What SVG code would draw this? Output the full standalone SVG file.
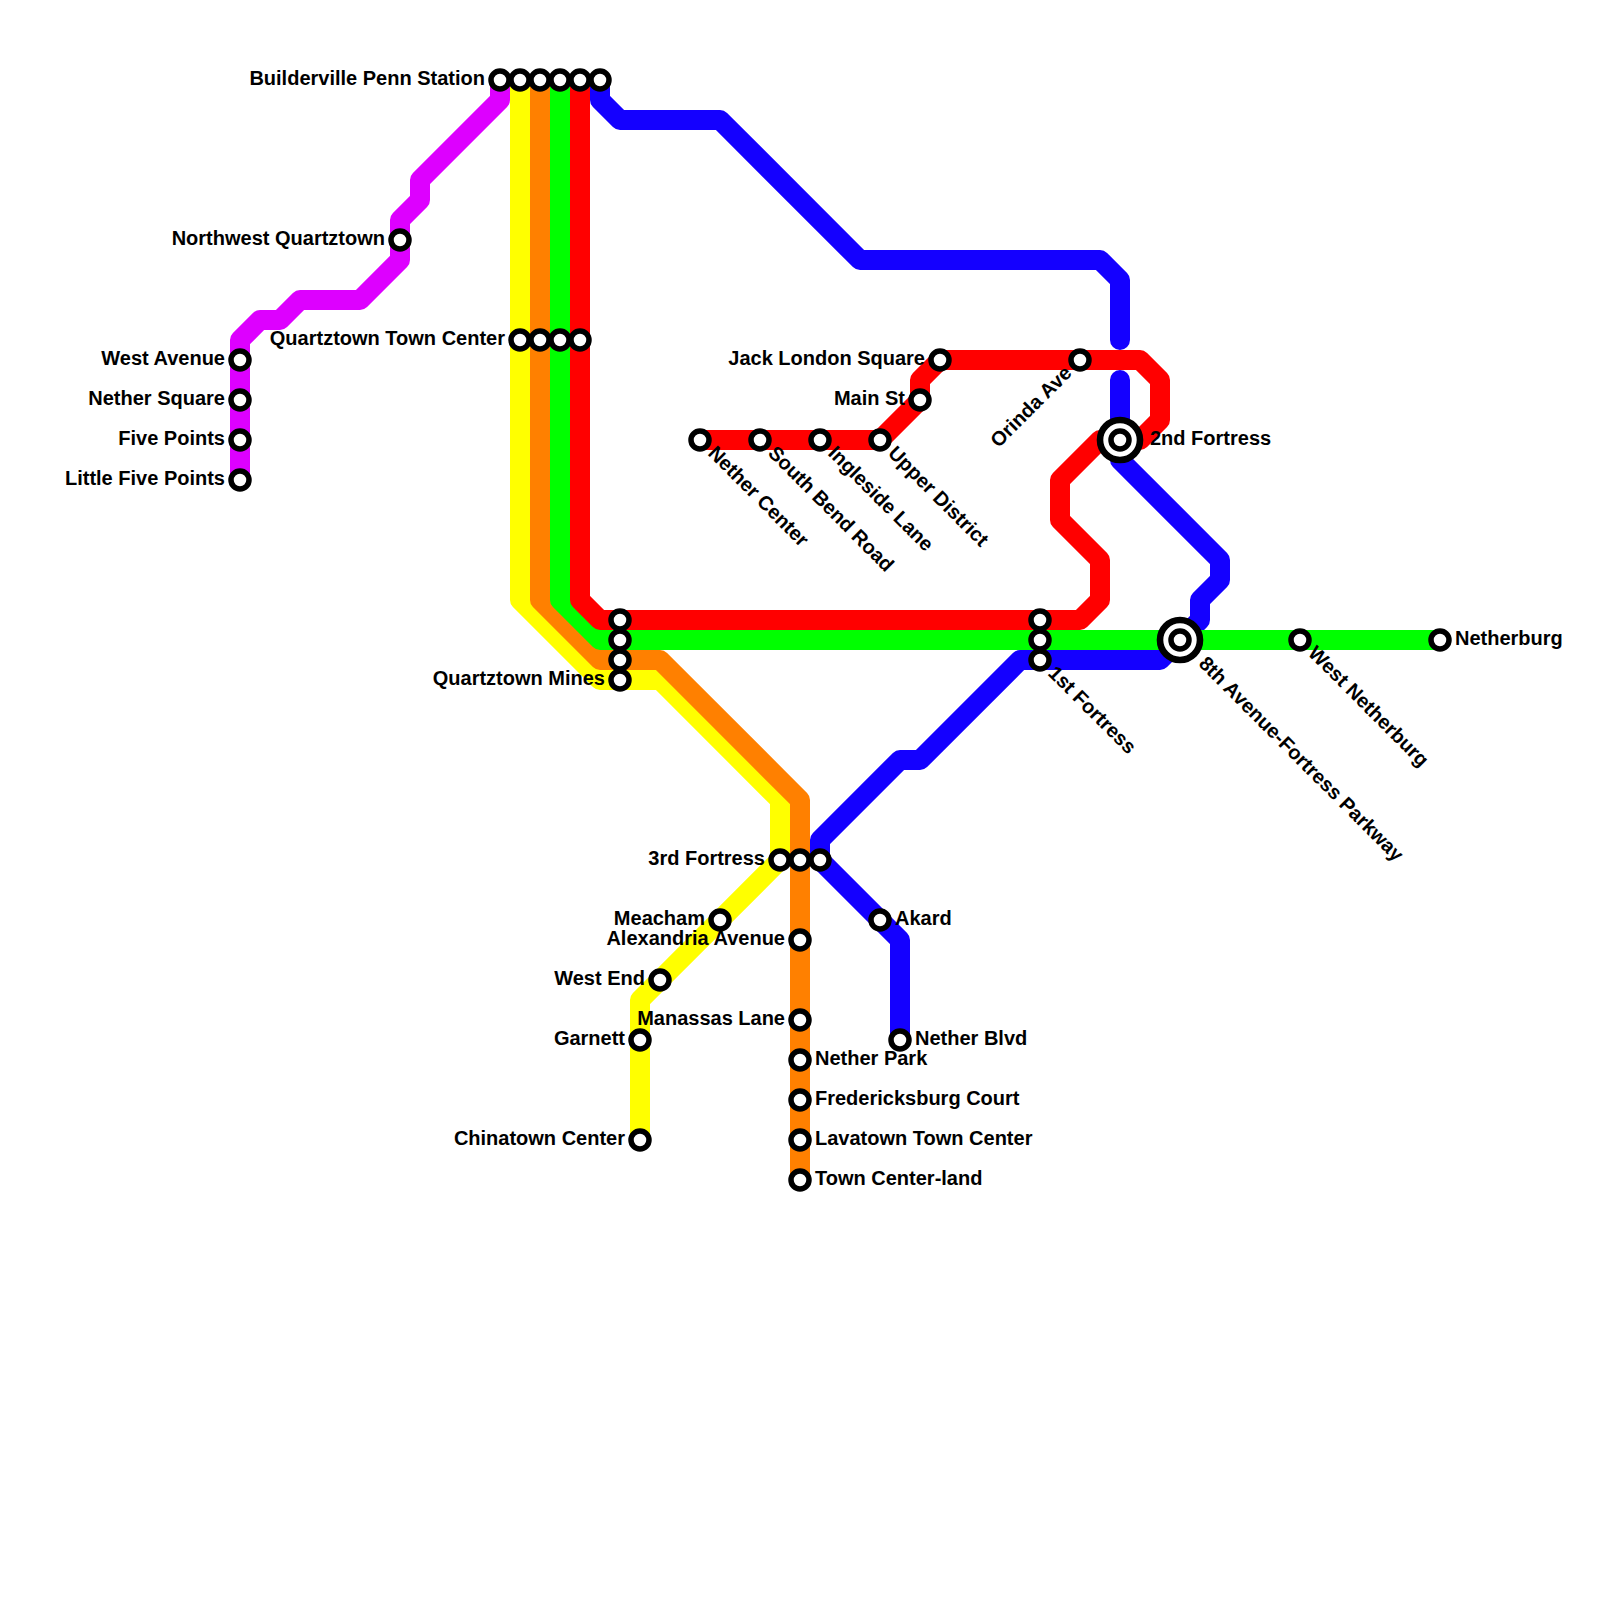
<svg xmlns="http://www.w3.org/2000/svg" width="1600" height="1600" viewBox="0 0 1600 1600">
<style>
.l{fill:none;stroke-width:20;stroke-linecap:round;stroke-linejoin:round}
.s{fill:#fff;stroke:#000;stroke-width:5.5}
.b{fill:#fff;stroke:#000;stroke-width:6.6}
text{font-family:"Liberation Sans",Arial,sans-serif;font-weight:700;font-size:20px;fill:#000}
.e{text-anchor:end}
</style>
<rect width="1600" height="1600" fill="#fff"/>
<g id="connectors">
<path class="l" stroke="#1400ff" d="M600 80V100L620 120H720L860 260H1100L1120 280V340"/>
<path class="l" stroke="#1400ff" d="M1120 380V460L1220 560V580L1200 600V620L1160 660H1020L920 760H900L820 840V860L900 940V1040"/>
<path class="l" stroke="#dd00ff" d="M500 80V100L420 180V200L400 220V260L360 300H300L280 320H260L240 340V480"/>
<path class="l" stroke="#ffff00" d="M520 80V600L600 680H660L780 800V860L640 1000V1140"/>
<path class="l" stroke="#ff8000" d="M540 80V600L600 660H660L800 800V1180"/>
<path class="l" stroke="#00ff00" d="M560 80V600L600 640H1440"/>
<path class="l" stroke="#ff0000" d="M580 80V600L600 620H1080L1100 600V560L1060 520V480L1100 440H1140L1160 420V380L1140 360H940L920 380V400L880 440H700"/>
</g>
<g id="builderville-penn-station"><circle class="s" cx="500" cy="80" r="9"/><circle class="s" cx="520" cy="80" r="9"/><circle class="s" cx="540" cy="80" r="9"/><circle class="s" cx="560" cy="80" r="9"/><circle class="s" cx="580" cy="80" r="9"/><circle class="s" cx="600" cy="80" r="9"/><text class="e" x="485" y="84.5">Builderville Penn Station</text></g>
<g id="northwest-quartztown"><circle class="s" cx="400" cy="240" r="9"/><text class="e" x="385" y="244.5">Northwest Quartztown</text></g>
<g id="quartztown-town-center"><circle class="s" cx="520" cy="340" r="9"/><circle class="s" cx="540" cy="340" r="9"/><circle class="s" cx="560" cy="340" r="9"/><circle class="s" cx="580" cy="340" r="9"/><text class="e" x="505" y="344.5">Quartztown Town Center</text></g>
<g id="west-avenue"><circle class="s" cx="240" cy="360" r="9"/><text class="e" x="225" y="364.5">West Avenue</text></g>
<g id="nether-square"><circle class="s" cx="240" cy="400" r="9"/><text class="e" x="225" y="404.5">Nether Square</text></g>
<g id="five-points"><circle class="s" cx="240" cy="440" r="9"/><text class="e" x="225" y="444.5">Five Points</text></g>
<g id="little-five-points"><circle class="s" cx="240" cy="480" r="9"/><text class="e" x="225" y="484.5">Little Five Points</text></g>
<g id="jack-london-square"><circle class="s" cx="940" cy="360" r="9"/><text class="e" x="925" y="364.5">Jack London Square</text></g>
<g id="main-st"><circle class="s" cx="920" cy="400" r="9"/><text class="e" x="905" y="404.5">Main St</text></g>
<g id="orinda-ave"><circle class="s" cx="1080" cy="360" r="9"/><text class="e" transform="translate(1080 360) rotate(-45)" x="-15" y="5">Orinda Ave</text></g>
<g id="nether-center"><circle class="s" cx="700" cy="440" r="9"/><text transform="translate(700 440) rotate(45)" x="15" y="5">Nether Center</text></g>
<g id="south-bend-road"><circle class="s" cx="760" cy="440" r="9"/><text transform="translate(760 440) rotate(45)" x="15" y="5">South Bend Road</text></g>
<g id="ingleside-lane"><circle class="s" cx="820" cy="440" r="9"/><text transform="translate(820 440) rotate(45)" x="15" y="5">Ingleside Lane</text></g>
<g id="upper-district"><circle class="s" cx="880" cy="440" r="9"/><text transform="translate(880 440) rotate(45)" x="15" y="5">Upper District</text></g>
<g id="second-fortress"><circle class="b" cx="1120" cy="440" r="20"/><circle class="s" cx="1120" cy="440" r="9"/><text x="1150" y="444.5">2nd Fortress</text></g>
<g id="first-fortress"><circle class="s" cx="1040" cy="620" r="9"/><circle class="s" cx="1040" cy="640" r="9"/><circle class="s" cx="1040" cy="660" r="9"/><text transform="translate(1040 660) rotate(45)" x="15" y="5">1st Fortress</text></g>
<g id="eighth-avenue-fortress-parkway"><circle class="b" cx="1180" cy="640" r="20"/><circle class="s" cx="1180" cy="640" r="9"/><text transform="translate(1180 640) rotate(45)" x="30" y="5">8th Avenue-Fortress Parkway</text></g>
<g id="west-netherburg"><circle class="s" cx="1300" cy="640" r="9"/><text transform="translate(1300 640) rotate(45)" x="15" y="5">West Netherburg</text></g>
<g id="netherburg"><circle class="s" cx="1440" cy="640" r="9"/><text x="1455" y="644.5">Netherburg</text></g>
<g id="quartztown-mines"><circle class="s" cx="620" cy="620" r="9"/><circle class="s" cx="620" cy="640" r="9"/><circle class="s" cx="620" cy="660" r="9"/><circle class="s" cx="620" cy="680" r="9"/><text class="e" x="605" y="684.5">Quartztown Mines</text></g>
<g id="third-fortress"><circle class="s" cx="780" cy="860" r="9"/><circle class="s" cx="800" cy="860" r="9"/><circle class="s" cx="820" cy="860" r="9"/><text class="e" x="765" y="864.5">3rd Fortress</text></g>
<g id="meacham"><circle class="s" cx="720" cy="920" r="9"/><text class="e" x="705" y="924.5">Meacham</text></g>
<g id="alexandria-avenue"><circle class="s" cx="800" cy="940" r="9"/><text class="e" x="785" y="944.5">Alexandria Avenue</text></g>
<g id="west-end"><circle class="s" cx="660" cy="980" r="9"/><text class="e" x="645" y="984.5">West End</text></g>
<g id="garnett"><circle class="s" cx="640" cy="1040" r="9"/><text class="e" x="625" y="1044.5">Garnett</text></g>
<g id="chinatown-center"><circle class="s" cx="640" cy="1140" r="9"/><text class="e" x="625" y="1144.5">Chinatown Center</text></g>
<g id="akard"><circle class="s" cx="880" cy="920" r="9"/><text x="895" y="924.5">Akard</text></g>
<g id="nether-blvd"><circle class="s" cx="900" cy="1040" r="9"/><text x="915" y="1044.5">Nether Blvd</text></g>
<g id="manassas-lane"><circle class="s" cx="800" cy="1020" r="9"/><text class="e" x="785" y="1024.5">Manassas Lane</text></g>
<g id="nether-park"><circle class="s" cx="800" cy="1060" r="9"/><text x="815" y="1064.5">Nether Park</text></g>
<g id="fredericksburg-court"><circle class="s" cx="800" cy="1100" r="9"/><text x="815" y="1104.5">Fredericksburg Court</text></g>
<g id="lavatown-town-center"><circle class="s" cx="800" cy="1140" r="9"/><text x="815" y="1144.5">Lavatown Town Center</text></g>
<g id="town-center-land"><circle class="s" cx="800" cy="1180" r="9"/><text x="815" y="1184.5">Town Center-land</text></g>
</svg>
